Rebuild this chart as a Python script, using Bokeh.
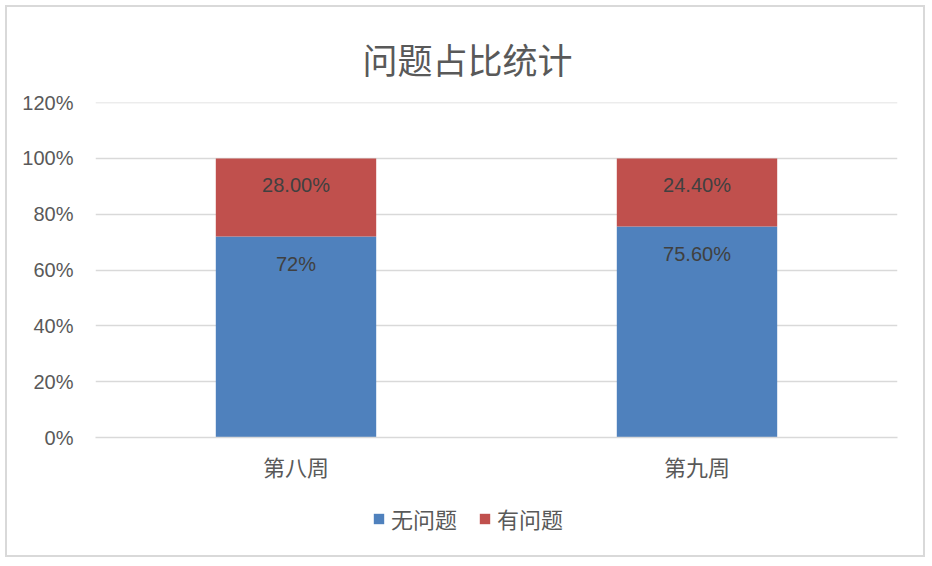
from bokeh.plotting import figure
from bokeh.models import (ColumnDataSource, FactorRange, Range1d, FixedTicker,
                          NumeralTickFormatter, LabelSet, Legend, LegendItem)
from bokeh.layouts import column
from bokeh.embed import file_html
from bokeh.resources import INLINE

weeks = ["第八周", "第九周"]
no_issue = [0.72, 0.756]
has_issue = [0.28, 0.244]
no_issue_labels = ["72%", "75.60%"]
has_issue_labels = ["28.00%", "24.40%"]
series_names = ["无问题", "有问题"]
colors = ["#4F81BD", "#C0504D"]
y_ticks = [0, 0.2, 0.4, 0.6, 0.8, 1.0, 1.2]
title_text = "问题占比统计"

FONT = "Noto Sans CJK SC"
TXT = "#595959"

src = ColumnDataSource(dict(
    week=weeks,
    no=no_issue,
    has=has_issue,
    no_top=no_issue,
    has_top=[a + b for a, b in zip(no_issue, has_issue)],
    no_lab=no_issue_labels,
    has_lab=has_issue_labels,
))

p = figure(x_range=FactorRange(*weeks), y_range=Range1d(0, 1.2005),
           width=916, height=480, output_backend="svg", toolbar_location=None,
           min_border_left=88, min_border_right=26, min_border_top=95,
           min_border_bottom=50)
p.x_range.range_padding = 0

p.title.text = title_text
p.title.align = "left"
p.title.vertical_align = "middle"
p.title.text_font = FONT
p.title.text_font_size = "35px"
p.title.text_font_style = "normal"
p.title.text_color = TXT
p.title.offset = 267
p.title.standoff = 35

r = p.vbar_stack(["no", "has"], x="week", width=0.4, source=src,
                 color=colors, line_color=None)

labs1 = LabelSet(x="week", y="no_top", text="no_lab", source=src, y_offset=-27,
                 text_align="center", text_baseline="middle",
                 text_font_size="20px", text_color="#404040")
labs2 = LabelSet(x="week", y="has_top", text="has_lab", source=src, y_offset=-27,
                 text_align="center", text_baseline="middle",
                 text_font_size="20px", text_color="#404040")
p.add_layout(labs1)
p.add_layout(labs2)

p.yaxis.ticker = FixedTicker(ticks=y_ticks)
p.yaxis.formatter = NumeralTickFormatter(format="0%")
p.yaxis.axis_line_color = None
p.yaxis.major_tick_line_color = None
p.yaxis.minor_tick_line_color = None
p.yaxis.major_label_text_font_size = "20px"
p.yaxis.major_label_text_color = TXT
p.yaxis.major_label_standoff = 16

p.xaxis.axis_line_color = "#D9D9D9"
p.xaxis.axis_line_width = 1.5
p.xaxis.major_tick_line_color = None
p.xaxis.minor_tick_line_color = None
p.xaxis.major_label_text_font = FONT
p.xaxis.major_label_text_font_size = "22px"
p.xaxis.major_label_text_color = TXT
p.xaxis.major_label_standoff = 6

p.xgrid.grid_line_color = None
p.ygrid.grid_line_color = "#D9D9D9"
p.ygrid.grid_line_width = 1.5
p.outline_line_color = None

# legend strip below the chart (its bars lie outside its view, only swatches show)
p2 = figure(width=916, height=68, output_backend="svg", toolbar_location=None,
            x_range=FactorRange(*weeks), y_range=Range1d(10, 11),
            min_border=0, min_border_left=0, min_border_right=0,
            min_border_top=0, min_border_bottom=0)
p2.axis.visible = False
p2.grid.visible = False
p2.outline_line_color = None
swatches = [p2.vbar(x="week", top=col, width=0.4, source=src, color=c, line_color=None)
            for col, c in zip(["no", "has"], colors)]

legend = Legend(items=[LegendItem(label=n, renderers=[s]) for n, s in zip(series_names, swatches)],
                orientation="horizontal", location=(277, 21),
                label_text_font=FONT, label_text_font_size="22px",
                label_text_color=TXT, glyph_width=13, glyph_height=13,
                spacing=21, border_line_color=None, background_fill_alpha=0,
                label_standoff=6, padding=0, margin=0)
p2.add_layout(legend)

layout = column(p, p2, spacing=0,
                styles={"border": "2px solid #D9D9D9", "margin": "5px 0 0 5px"})

open("out.html", "w").write(file_html(layout, INLINE))
